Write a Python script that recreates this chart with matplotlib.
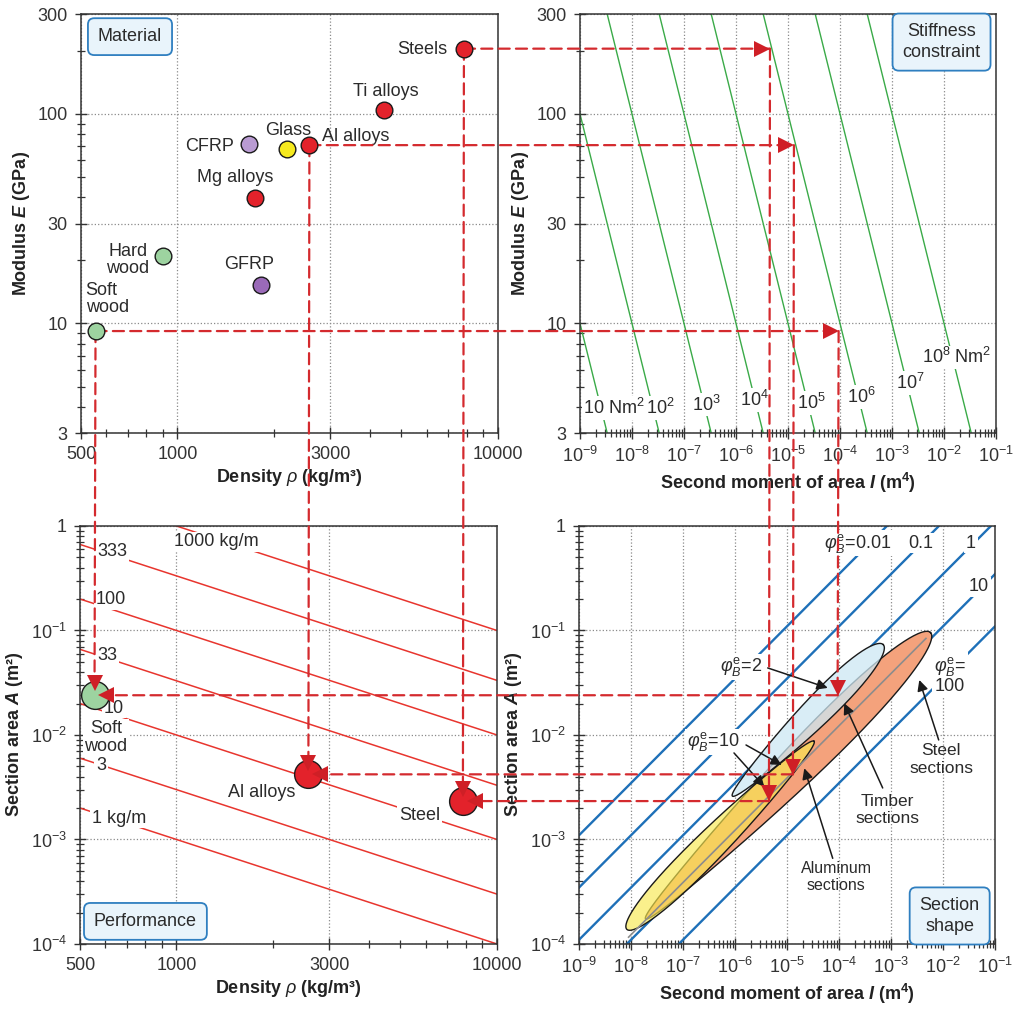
import numpy as np
import matplotlib
matplotlib.use("Agg")
from matplotlib import pyplot as plt
from matplotlib.patches import ConnectionPatch
from matplotlib.lines import Line2D
from matplotlib.transforms import offset_copy

plt.rcParams['font.family'] = ['Liberation Sans', 'DejaVu Sans']
plt.rcParams['mathtext.fontset'] = 'custom'
plt.rcParams['mathtext.rm'] = 'Liberation Sans'
plt.rcParams['mathtext.it'] = 'Liberation Sans:italic'
plt.rcParams['mathtext.bf'] = 'Liberation Sans:bold'
plt.rcParams['mathtext.bfit'] = 'Liberation Sans:italic:bold'
plt.rcParams['mathtext.default'] = 'regular'

# ---- material panel: density (kg/m3), modulus (GPa)
materials = ["Steels", "Ti alloys", "Al alloys", "Glass", "CFRP", "Mg alloys", "Hard\nwood", "GFRP", "Soft\nwood"]
density = [7830, 4420, 2580, 2190, 1670, 1750, 903, 1820, 555]
modulus = [205, 105, 71, 68, 72, 39.5, 21, 15.3, 9.2]
mat_colors = ["#e3222b", "#e3222b", "#e3222b", "#f6ea1e", "#b99bd2", "#e3222b", "#9dd3a0", "#9a6ab8", "#9dd3a0"]
mat_lab_x = [6950, 4470, 2820, 2210, 1500, 1510, 700, 1670, 517]
mat_lab_y = [204, 128, 78, 83, 70, 50, 20.1, 19.2, 13.1]
mat_lab_ha = ["right", "center", "left", "center", "right", "center", "center", "center", "left"]

# ---- selected designs (index into materials), second moment I (m4), section area A (m2)
sel_idx = [8, 2, 0]
sel_names = ["Soft\nwood", "Al alloys", "Steel"]
sel_I = [9.4e-5, 1.3e-5, 4.5e-6]
sel_A = [0.024, 4.2e-3, 2.33e-3]
sel_lab_x = [602, 1849, 5740]
sel_lab_y = [9.46e-3, 2.79e-3, 1.71e-3]

# ---- stiffness constraint lines EI (Nm2)
stiffness = [1e1, 1e2, 1e3, 1e4, 1e5, 1e6, 1e7, 1e8]
stiff_labels = ["10 Nm$^2$", "10$^2$", "10$^3$", "10$^4$", "10$^5$", "10$^6$", "10$^7$", "10$^8$ Nm$^2$"]
stiff_lab_I = [4.5e-9, 3.5e-8, 2.65e-7, 2.3e-6, 2.77e-5, 2.54e-4, 2.2e-3, 1.78e-2]
stiff_lab_E = [3.95, 3.95, 4.09, 4.31, 4.17, 4.46, 5.2, 6.9]

# ---- mass per unit length lines (kg/m)
mass = [1, 3, 10, 33, 100, 333, 1000]
mass_labels = ["1 kg/m", "3", "10", "33", "100", "333", "1000 kg/m"]
mass_lab_x = [545, 561, 594, 565, 561, 565, 982]
mass_lab_y = [1.6e-3, 5.16e-3, 0.0181, 0.0574, 0.196, 0.568, 0.708]

# ---- shape factor lines
shape = [0.01, 0.1, 1, 10, 100]
shape_labels = ["$\\mathit{φ}_{\\mathit{B}}^{e}$=0.01", "0.1", "1", "10", "$\\mathit{φ}_{\\mathit{B}}^{e}$=\n100"]
shape_lab_I = [2.29e-4, 3.78e-3, 3.45e-2, 4.92e-2, 1.36e-2]
shape_lab_A = [0.683, 0.683, 0.683, 0.262, 0.0375]

# ---- section families (log10 centre, half length / half width in decades of I, taper)
sections = ["Steel", "Timber", "Aluminum"]
sec_logI = [-4.98, -4.6, -6.28]
sec_logA = [-2.39, -1.86, -2.96]
sec_len = [2.74, 1.45, 1.8]
sec_wid = [0.26, 0.19, 0.2]
sec_taper = [0.4, 0.35, -0.3]
sec_colors = ["#f4a27c", "#cde8f4", "#f8e94f"]
sec_alpha = [1.0, 0.75, 0.65]
mid_phi = 8
mid_I = [9e-9, 4.7e-3]

# ---- ticks
dens_ticks = [500, 1000, 3000, 10000]
dens_minor = [600, 700, 800, 900, 2000, 4000, 5000, 6000, 7000, 8000, 9000]
mod_ticks = [3, 10, 30, 100, 300]
mod_minor = [4, 5, 6, 7, 8, 9, 20, 40, 50, 60, 70, 80, 90, 200]
I_ticks = [1e-9, 1e-8, 1e-7, 1e-6, 1e-5, 1e-4, 1e-3, 1e-2, 1e-1]
I_labels = ["$10^{-9}$", "$10^{-8}$", "$10^{-7}$", "$10^{-6}$", "$10^{-5}$", "$10^{-4}$", "$10^{-3}$", "$10^{-2}$", "$10^{-1}$"]
A_ticks = [1e-4, 1e-3, 1e-2, 1e-1, 1]
A_labels = ["$10^{-4}$", "$10^{-3}$", "$10^{-2}$", "$10^{-1}$", "1"]

DASH = "#d42a2e"
TRI = "#cf1f26"
TXT = "#2b2b2b"

fig = plt.figure(figsize=(10.24, 10.16), dpi=100)
ax_m = fig.add_axes([0.0791, 0.5738, 0.4072, 0.4124])
ax_s = fig.add_axes([0.5664, 0.5738, 0.4063, 0.4124])
ax_p = fig.add_axes([0.0781, 0.0709, 0.4072, 0.4114])
ax_c = fig.add_axes([0.5654, 0.0709, 0.4063, 0.4114])


def minors(decades):
    return [k * 10.0 ** d for d in decades for k in range(2, 10)]


def style(ax, xt, xl, xm, yt, yl, ym):
    ax.set_xscale("log")
    ax.set_yscale("log")
    ax.set_xlim(xt[0], xt[-1])
    ax.set_ylim(yt[0], yt[-1])
    ax.set_xticks(xt, xl)
    ax.set_yticks(yt, yl)
    ax.set_xticks(xm, minor=True)
    ax.set_yticks(ym, minor=True)
    ax.set_xticklabels([], minor=True)
    ax.set_yticklabels([], minor=True)
    for s in ax.spines.values():
        s.set_linewidth(1.1)
        s.set_color("#333333")
    ax.tick_params(which="both", direction="inout", colors="#333333", labelsize=13, pad=5)
    ax.tick_params(which="major", length=9, width=1.0)
    ax.tick_params(which="minor", length=6, width=0.9)
    ax.grid(True, which="major", linestyle=":", color="#8a8a8a", lw=0.9)
    ax.set_axisbelow(True)


style(ax_m, dens_ticks, [str(t) for t in dens_ticks], dens_minor, mod_ticks, [str(t) for t in mod_ticks], mod_minor)
style(ax_s, I_ticks, I_labels, minors(range(-9, -1)), mod_ticks, [str(t) for t in mod_ticks], mod_minor)
style(ax_p, dens_ticks, [str(t) for t in dens_ticks], dens_minor, A_ticks, A_labels, minors(range(-4, 0)))
style(ax_c, I_ticks, I_labels, minors(range(-9, -1)), A_ticks, A_labels, minors(range(-4, 0)))

lab = dict(fontsize=13, fontweight="bold", color="#222222")
ax_m.set_xlabel("Density $\\mathit{ρ}$ (kg/m³)", labelpad=3, **lab)
ax_p.set_xlabel("Density $\\mathit{ρ}$ (kg/m³)", labelpad=3, **lab)
ax_s.set_xlabel("Second moment of area $\\mathbfit{I}$ (m$^{\\mathbf{4}}$)", labelpad=3, **lab)
ax_c.set_xlabel("Second moment of area $\\mathbfit{I}$ (m$^{\\mathbf{4}}$)", labelpad=3, **lab)
ax_m.set_ylabel("Modulus $\\mathbfit{E}$ (GPa)", **lab)
ax_s.set_ylabel("Modulus $\\mathbfit{E}$ (GPa)", **lab)
ax_p.set_ylabel("Section area $\\mathbfit{A}$ (m²)", **lab)
ax_c.set_ylabel("Section area $\\mathbfit{A}$ (m²)", **lab)

white = dict(fc="white", ec="none", pad=1.2)


def fig_marker(ax, x, y, dx=0, dy=0, z=6, **kw):
    tr = offset_copy(ax.transData, fig=fig, x=dx, y=dy, units="points")
    fig.add_artist(Line2D([x], [y], transform=tr, linestyle="none", zorder=z, **kw))


def dash(axA, xyA, axB, xyB):
    con = ConnectionPatch(xyA=xyA, coordsA="data", axesA=axA, xyB=xyB, coordsB="data", axesB=axB,
                          color=DASH, lw=1.6, linestyle=(0, (5, 2.8)), zorder=5, annotation_clip=False)
    fig.add_artist(con)


def panel_box(ax, x, y, s):
    ax.text(x, y, s, transform=ax.transAxes, ha="center", va="center", fontsize=13, color=TXT,
            linespacing=1.25, zorder=4,
            bbox=dict(boxstyle="round,pad=0.55,rounding_size=0.35", fc="#e9f4fb", ec="#2f7fc0", lw=1.3))


# material panel
for i, name in enumerate(materials):
    fig_marker(ax_m, density[i], modulus[i], marker="o", ms=12, mfc=mat_colors[i], mec="#1a1a1a", mew=1.0, z=5.5)
    ax_m.text(mat_lab_x[i], mat_lab_y[i], name, ha=mat_lab_ha[i], va="center", fontsize=13, color=TXT,
              linespacing=1.05)
panel_box(ax_m, 0.1175, 0.946, "Material")

# stiffness panel
E_range = np.array([3.0, 300.0])
for ei in stiffness:
    ax_s.plot(ei / (E_range * 1e9), E_range, color="#3aaa48", lw=1.0, zorder=2)
for i, s in enumerate(stiff_labels):
    ax_s.text(stiff_lab_I[i], stiff_lab_E[i], s, ha="center", va="center", fontsize=13, color=TXT,
              bbox=white, zorder=3)
panel_box(ax_s, 0.869, 0.933, "Stiffness\nconstraint")

# performance panel
rho_range = np.array([500.0, 10000.0])
for m in mass:
    ax_p.plot(rho_range, m / rho_range, color="#e8352e", lw=1.1, zorder=2)
for i, s in enumerate(mass_labels):
    ax_p.text(mass_lab_x[i], mass_lab_y[i], s, ha="left", va="center", fontsize=13, color=TXT,
              bbox=white, zorder=3)
for k, i in enumerate(sel_idx):
    ax_p.text(sel_lab_x[k], sel_lab_y[k], sel_names[k], ha="center", va="center", fontsize=13,
              color=TXT, linespacing=1.05, bbox=white, zorder=3)
    fig_marker(ax_p, density[i], sel_A[k], marker="o", ms=20, mfc=mat_colors[i], mec="#1a1a1a", mew=1.0, z=5.5)
panel_box(ax_p, 0.157, 0.054, "Performance")

# section shape panel
I_range = np.array([1e-9, 1e-1])
for phi in shape:
    ax_c.plot(I_range, np.sqrt(12 * I_range / phi), color="#1e70b8", lw=1.7, zorder=1.2)
for i, s in enumerate(shape_labels):
    ax_c.text(shape_lab_I[i], shape_lab_A[i], s, ha="center", va="center", fontsize=13, color=TXT,
              linespacing=1.0, bbox=white, zorder=3)

t = np.linspace(0, 2 * np.pi, 400)


def outline(j):
    # axis runs along lines of constant shape factor (slope 1/2 on log-log)
    u = sec_len[j] * np.cos(t)
    v = sec_wid[j] * np.sin(t) * (1 + sec_taper[j] * np.cos(t))
    return 10 ** (sec_logI[j] + u + v), 10 ** (sec_logA[j] + 0.5 * u - 0.5 * v)


for j in range(len(sections)):
    li, la = outline(j)
    ax_c.fill(li, la, color="white", lw=0, zorder=1.5)
for j in range(len(sections)):
    li, la = outline(j)
    ax_c.fill(li, la, fc=sec_colors[j], alpha=sec_alpha[j], lw=0, zorder=2 + 0.1 * j)
    ax_c.plot(li, la, color="#1a1a1a", lw=1.0, zorder=2.05 + 0.1 * j)
    if j == 0:
        mi = np.array(mid_I)
        ax_c.plot(mi, np.sqrt(12 * mi / mid_phi), color="#8c8c8c", lw=1.2, zorder=2.3)

arrow = dict(arrowstyle="-|>", color="#1a1a1a", lw=1.1, mutation_scale=16, shrinkA=0, shrinkB=0)
ax_c.text(1.3e-6, 0.0448, "$\\mathit{φ}_{\\mathit{B}}^{e}$=2", ha="center", va="center", fontsize=13,
          color=TXT, bbox=white, zorder=3)
ax_c.annotate("", xy=(6.07e-5, 0.0282), xytext=(4.26e-6, 0.0438), arrowprops=arrow, zorder=4)
ax_c.text(3.77e-7, 8.63e-3, "$\\mathit{φ}_{\\mathit{B}}^{e}$=10", ha="center", va="center", fontsize=13,
          color=TXT, bbox=white, zorder=3)
ax_c.annotate("", xy=(7.9e-6, 5.16e-3), xytext=(1.63e-6, 8.02e-3), arrowprops=arrow, zorder=4)
ax_c.annotate("", xy=(3.66e-6, 3.2e-3), xytext=(9.57e-7, 6.73e-3), arrowprops=arrow, zorder=4)
ax_c.text(8.6e-4, 1.91e-3, "Timber\nsections", ha="center", va="center", fontsize=12.5, color=TXT)
ax_c.annotate("", xy=(1.26e-4, 0.0201), xytext=(6.92e-4, 3.11e-3), arrowprops=arrow, zorder=4)
ax_c.text(8.75e-5, 4.4e-4, "Aluminum\nsections", ha="center", va="center", fontsize=11.5, color=TXT)
ax_c.annotate("", xy=(2.15e-5, 4.8e-3), xytext=(7.57e-5, 6.6e-4), arrowprops=arrow, zorder=4)
ax_c.text(9.2e-3, 5.85e-3, "Steel\nsections", ha="center", va="center", fontsize=12.5, color=TXT)
ax_c.annotate("", xy=(3.5e-3, 0.0336), xytext=(8.26e-3, 8.96e-3), arrowprops=arrow, zorder=4)
panel_box(ax_c, 0.891, 0.067, "Section\nshape")

# design path connectors
for k, i in enumerate(sel_idx):
    rho, E, I, A = density[i], modulus[i], sel_I[k], sel_A[k]
    dash(ax_m, (rho, E), ax_s, (I, E))
    dash(ax_m, (rho, E), ax_p, (rho, A))
    dash(ax_s, (I, E), ax_c, (I, A))
    dash(ax_c, (I, A), ax_p, (rho, A))
    fig_marker(ax_s, I, E, dx=-5.5, marker=">", ms=11, color=TRI, mew=0)
    fig_marker(ax_c, I, A, dy=5.5, marker="v", ms=11, color=TRI, mew=0)
    fig_marker(ax_p, rho, A, dy=8.5, marker="v", ms=11, color=TRI, mew=0)
    fig_marker(ax_p, rho, A, dx=8.5, marker="<", ms=11, color=TRI, mew=0)

fig.savefig("out.png", dpi=100, facecolor="white")
